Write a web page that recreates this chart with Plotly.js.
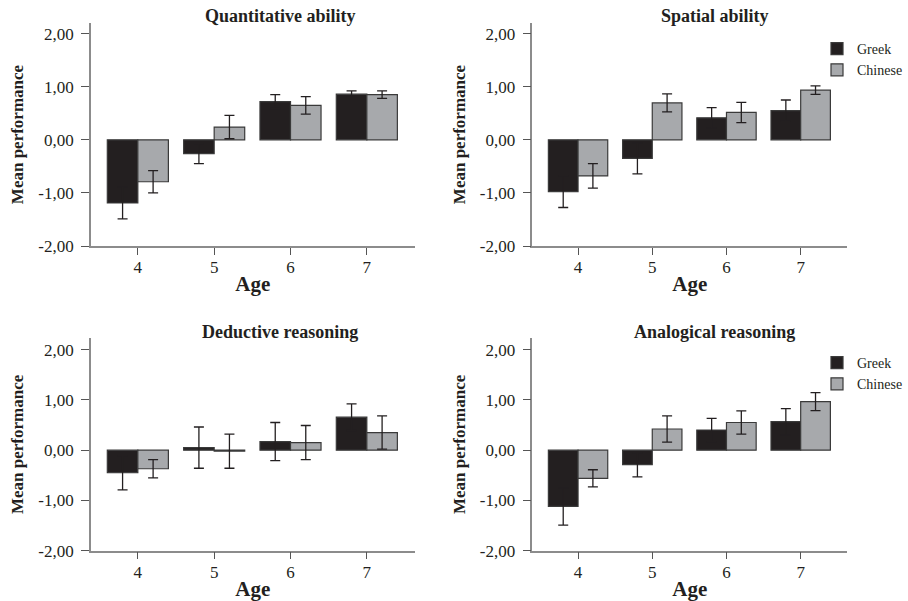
<!DOCTYPE html>
<html>
<head>
<meta charset="utf-8">
<script src="https://cdn.plot.ly/plotly-3.0.1.min.js"></script>
<style>html,body{margin:0;padding:0;background:#fff;}#chart{width:908px;height:601px;}</style>
</head>
<body>
<div id="chart"></div>
<script>
// ---- data ----
const ages = [4, 5, 6, 7];
const groups = ["Greek", "Chinese"];
const panelTitles = ["Quantitative ability", "Spatial ability", "Deductive reasoning", "Analogical reasoning"];
const yTickValues = [-2, -1, 0, 1, 2];
const yTickLabels = ["-2,00", "-1,00", "0,00", "1,00", "2,00"];

const quantGreek = [-1.19, -0.26, 0.72, 0.86];
const quantGreekErr = [0.30, 0.19, 0.13, 0.06];
const quantChinese = [-0.79, 0.24, 0.65, 0.85];
const quantChineseErr = [0.21, 0.22, 0.165, 0.07];

const spatialGreek = [-0.975, -0.35, 0.415, 0.55];
const spatialGreekErr = [0.30, 0.29, 0.19, 0.20];
const spatialChinese = [-0.68, 0.695, 0.515, 0.935];
const spatialChineseErr = [0.23, 0.17, 0.19, 0.08];

const deductiveGreek = [-0.45, 0.05, 0.17, 0.655];
const deductiveGreekErr = [0.34, 0.41, 0.38, 0.265];
const deductiveChinese = [-0.37, -0.02, 0.15, 0.35];
const deductiveChineseErr = [0.18, 0.34, 0.34, 0.33];

const analogicalGreek = [-1.12, -0.29, 0.40, 0.565];
const analogicalGreekErr = [0.37, 0.24, 0.23, 0.26];
const analogicalChinese = [-0.56, 0.42, 0.55, 0.965];
const analogicalChineseErr = [0.17, 0.26, 0.23, 0.18];

// ---- styling ----
const FONT = "Liberation Serif, Times New Roman, serif";
const colors = {Greek: "#231f20", Chinese: "#a7a9ac"};
const errColor = "#231f20";

const panels = [
  {greek: quantGreek, greekErr: quantGreekErr, chinese: quantChinese, chineseErr: quantChineseErr, xa: "x", ya: "y", legend: null},
  {greek: spatialGreek, greekErr: spatialGreekErr, chinese: spatialChinese, chineseErr: spatialChineseErr, xa: "x2", ya: "y2", legend: "legend"},
  {greek: deductiveGreek, greekErr: deductiveGreekErr, chinese: deductiveChinese, chineseErr: deductiveChineseErr, xa: "x3", ya: "y3", legend: null},
  {greek: analogicalGreek, greekErr: analogicalGreekErr, chinese: analogicalChinese, chineseErr: analogicalChineseErr, xa: "x4", ya: "y4", legend: "legend2"}
];

const traces = [];
panels.forEach(p => {
  [["Greek", p.greek, p.greekErr], ["Chinese", p.chinese, p.chineseErr]].forEach(([name, vals, errs]) => {
    traces.push({
      type: "bar", name: name, x: ages, y: vals,
      xaxis: p.xa, yaxis: p.ya,
      marker: {color: colors[name], line: {color: "#3a3a3a", width: 1.2}},
      error_y: {type: "data", array: errs, visible: true, color: errColor, thickness: 1.3, width: 5},
      showlegend: p.legend !== null,
      legend: p.legend || "legend",
      hoverinfo: "x+y"
    });
  });
});

function xAxis(domain, anchor) {
  return {
    domain: domain, anchor: anchor, range: [3.385, 7.625],
    tickvals: ages, ticktext: ages.map(String),
    showline: true, linecolor: "#8c8c8c", linewidth: 1.5,
    ticks: "outside", ticklen: 7, tickwidth: 1.2, tickcolor: "#555",
    ticklabelstandoff: -2,
    showgrid: false, zeroline: false,
    tickfont: {family: FONT, size: 17, color: "#231f20"},
    title: {text: "Age", font: {family: FONT, size: 21, weight: "bold", color: "#231f20"}, standoff: 0}
  };
}
function yAxis(domain, anchor, range) {
  return {
    domain: domain, anchor: anchor, range: range,
    tickvals: yTickValues, ticktext: yTickLabels,
    showline: true, linecolor: "#8c8c8c", linewidth: 1.5,
    ticks: "outside", ticklen: 8, tickwidth: 1.2, tickcolor: "#555",
    ticklabelstandoff: 4,
    showgrid: false, zeroline: false,
    tickfont: {family: FONT, size: 17, color: "#231f20"},
    title: {text: "Mean performance", font: {family: FONT, size: 17, weight: "bold", color: "#231f20"}, standoff: 10}
  };
}

const xL = [91/908, 415/908], xR = [533/908, 848/908];
const yT = [1 - 246/601, 1 - 23/601], yB = [1 - 550.7/601, 1 - 338/601];

const titleFont = {family: FONT, size: 18, weight: "bold", color: "#231f20"};
const annotations = [
  {text: panelTitles[0], x: 281/908, y: 1 - 16/601},
  {text: panelTitles[1], x: 715.6/908, y: 1 - 16/601},
  {text: panelTitles[2], x: 280/908, y: 1 - 332/601},
  {text: panelTitles[3], x: 715.6/908, y: 1 - 332/601}
].map(a => Object.assign({xref: "paper", yref: "paper", xanchor: "center", yanchor: "middle", showarrow: false, font: titleFont}, a));

const legendStyle = {
  xref: "paper", yref: "paper", xanchor: "left", yanchor: "top",
  bgcolor: "rgba(0,0,0,0)", borderwidth: 0,
  font: {family: FONT, size: 14, color: "#231f20"},
  itemwidth: 30, tracegroupgap: 0
};

const layout = {
  width: 908, height: 601,
  margin: {l: 0, r: 0, t: 0, b: 0},
  paper_bgcolor: "#ffffff", plot_bgcolor: "#ffffff",
  barmode: "group", bargap: 0.2, bargroupgap: 0,
  separators: ",.",
  showlegend: true,
  xaxis: xAxis(xL, "y"), yaxis: yAxis(yT, "x", [-2, 2.2]),
  xaxis2: xAxis(xR, "y2"), yaxis2: yAxis(yT, "x2", [-2, 2.2]),
  xaxis3: xAxis(xL, "y3"), yaxis3: yAxis(yB, "x3", [-2, 2.23]),
  xaxis4: xAxis(xR, "y4"), yaxis4: yAxis(yB, "x4", [-2, 2.23]),
  legend: Object.assign({x: 818/908, y: 1 - 33/601}, legendStyle),
  legend2: Object.assign({x: 818/908, y: 1 - 347/601}, legendStyle),
  annotations: annotations
};

Plotly.newPlot("chart", traces, layout, {displayModeBar: false, staticPlot: false});
</script>
</body>
</html>
